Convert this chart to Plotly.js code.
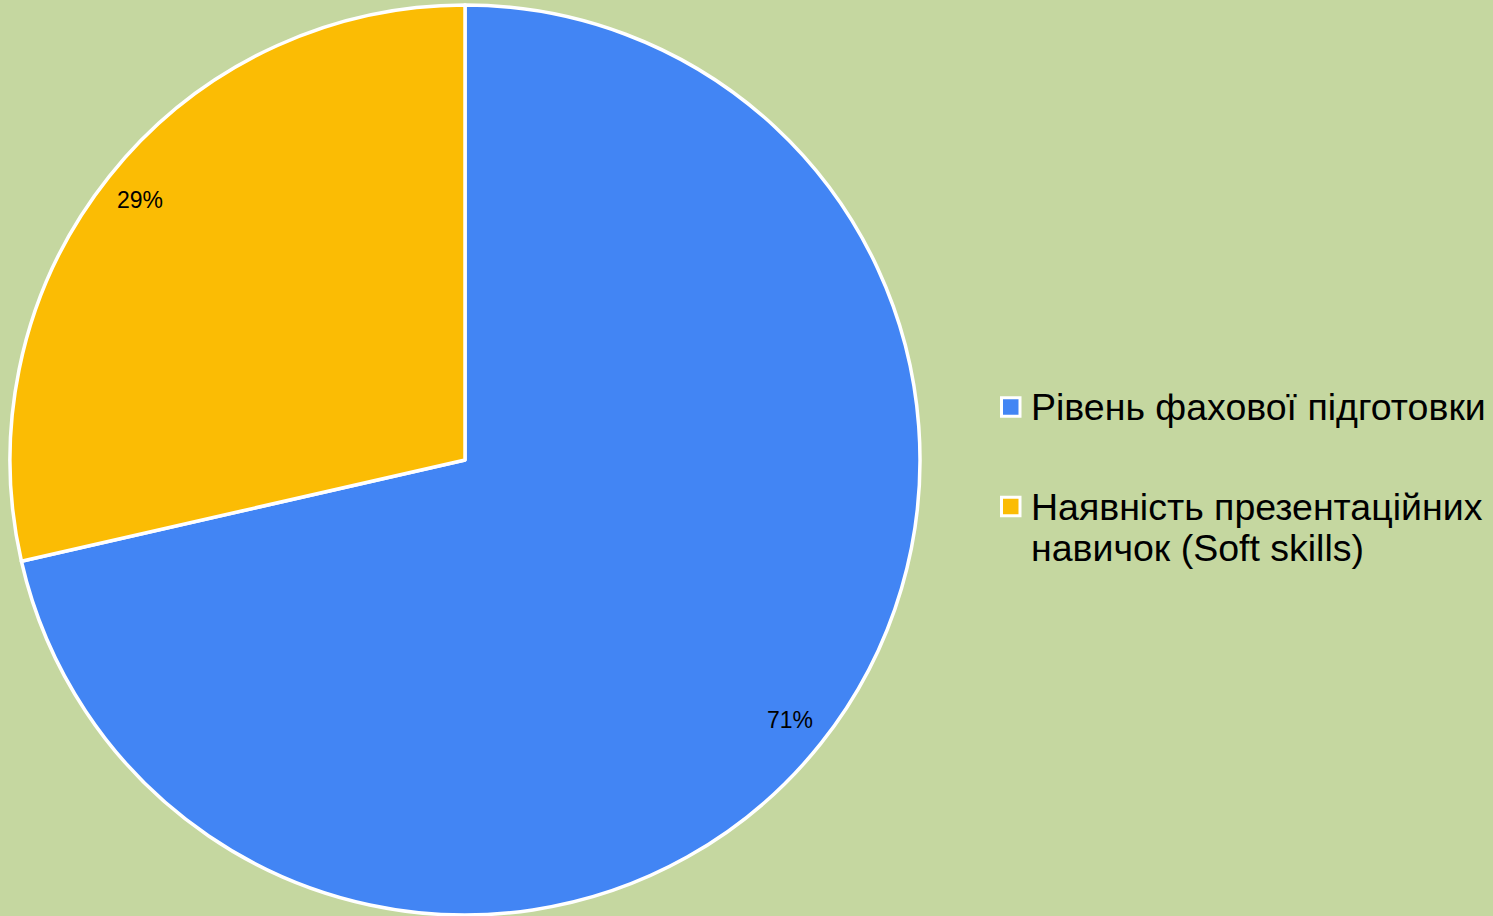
<!DOCTYPE html>
<html><head><meta charset="utf-8">
<script src="https://cdn.plot.ly/plotly-3.0.1.min.js"></script>
<style>html,body{margin:0;padding:0;background:#c5d7a0;}</style>
</head><body>
<div id="chart" style="width:1493px;height:916px;"></div>
<script>
const labelLines = [["Рівень фахової підготовки"], ["Наявність презентаційних", "навичок (Soft skills)"]];
const labels = labelLines.map(l => l.join(" "));
const values = [5, 2];
const colors = ["#4285f4", "#fbbc04"];

const W = 1493, H = 916;
const FONT = 'Liberation Sans, Arial, sans-serif';
const domX = [10/W, 920/W];
const domY = [1/H, 911/H];

// percentage label positions computed from data (clockwise from 12 o'clock)
const cx = (domX[0]+domX[1])/2, cy = (domY[0]+domY[1])/2;
const R = (domX[1]-domX[0])*W/2;
const total = values.reduce((a,b)=>a+b,0);
let cum = 0;
const annotations = values.map((v,i)=>{
  const mid = (cum + v/2)/total*2*Math.PI; cum += v;
  const r = 0.915*R;
  return {
    x: cx + r*Math.sin(mid)/W, y: cy + r*Math.cos(mid)/H,
    xref:'paper', yref:'paper', xanchor:'center', yanchor:'middle', showarrow:false,
    text: Math.round(v/total*100)+'%',
    font:{family:FONT, size:23, color:'#000'}
  };
});

// custom legend (marker squares + text lines)
const shapes = [];
const legX = 1001.5, legBox = 18.5, textX = 1028.5;
const itemTop = [407, 506.5];   // centre of first line of each item (px from top)
const lineGap = 41.7;
labelLines.forEach((lines, i) => {
  const yc = itemTop[i];
  shapes.push({type:'rect', xref:'paper', yref:'paper',
    x0: legX/W, x1: (legX+legBox)/W, y0: 1-(yc-legBox/2)/H, y1: 1-(yc+legBox/2)/H,
    fillcolor: colors[i], line:{color:'#ffffff', width:3}});
  lines.forEach((t, j) => {
    annotations.push({x: textX/W, y: 1-(yc + j*lineGap)/H, xref:'paper', yref:'paper',
      xanchor:'left', yanchor:'middle', showarrow:false, text:t,
      font:{family:FONT, size:37.5, color:'#000'}});
  });
});

const data = [{
  type:'pie', labels, values, sort:false, direction:'clockwise', rotation:0,
  marker:{colors, line:{color:'#ffffff', width:3.5}},
  textinfo:'none', hoverinfo:'label+percent',
  domain:{x:domX, y:domY}
}];
const layout = {
  width:W, height:H, margin:{l:0,r:0,t:0,b:0},
  paper_bgcolor:'#c5d7a0', plot_bgcolor:'#c5d7a0',
  showlegend:false,
  annotations, shapes
};
Plotly.newPlot('chart', data, layout, {displayModeBar:false, staticPlot:true});
</script>
</body></html>
